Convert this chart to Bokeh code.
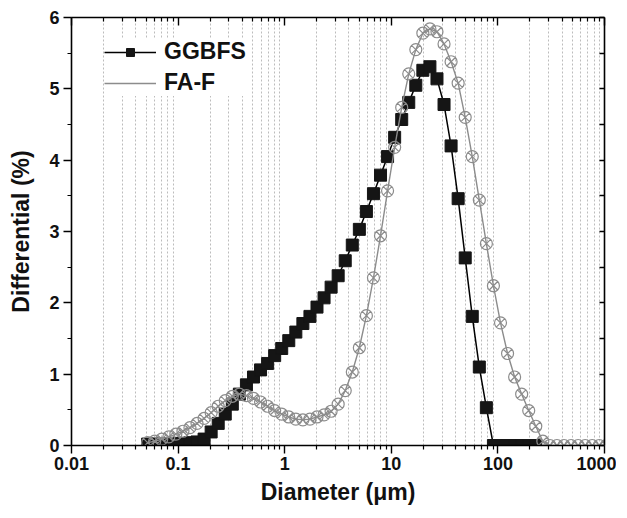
from bokeh.plotting import figure
from bokeh.models import (LogAxis, LinearAxis, FixedTicker, SingleIntervalTicker,
                          Legend, LegendItem, Range1d, CustomJSTickFormatter)
from bokeh.embed import file_html
from bokeh.resources import INLINE

# ---------------- data ----------------
diameter = [0.05178, 0.06031, 0.07024, 0.0818, 0.09527, 0.111, 0.1292, 0.1505, 0.1753, 0.2042,
            0.2378, 0.2769, 0.3225, 0.3757, 0.4375, 0.5096, 0.5935, 0.6912, 0.805, 0.9376,
            1.092, 1.272, 1.481, 1.725, 2.009, 2.34, 2.725, 3.174, 3.697, 4.306,
            5.015, 5.84, 6.802, 7.922, 9.227, 10.75, 12.52, 14.58, 16.98, 19.77,
            23.03, 26.82, 31.24, 36.38, 42.37, 49.35, 57.48, 66.94, 77.96, 90.8,
            105.8, 123.2, 143.5, 167.1, 194.6, 226.6, 263.9, 307.4, 358.0, 417.0,
            485.7, 565.6, 658.8, 767.2, 893.6, 1041.0]

ggbfs = [0.02, 0.02, 0.02, 0.02, 0.03, 0.03, 0.04, 0.05, 0.09, 0.19,
         0.31, 0.44, 0.58, 0.72, 0.85, 0.96, 1.06, 1.15, 1.26, 1.36,
         1.47, 1.59, 1.71, 1.81, 1.94, 2.07, 2.22, 2.38, 2.59, 2.81,
         3.03, 3.28, 3.53, 3.79, 4.05, 4.32, 4.57, 4.81, 5.05, 5.26,
         5.31, 5.14, 4.78, 4.20, 3.46, 2.63, 1.81, 1.10, 0.53, 0.0,
         0.0, 0.0, 0.0, 0.0, 0.0, 0.0]

fa_f = [0.04, 0.06, 0.09, 0.12, 0.16, 0.20, 0.25, 0.31, 0.38, 0.46,
        0.55, 0.63, 0.69, 0.72, 0.70, 0.66, 0.61, 0.55, 0.49, 0.44,
        0.40, 0.37, 0.36, 0.37, 0.40, 0.43, 0.48, 0.58, 0.77, 1.03,
        1.37, 1.82, 2.35, 2.94, 3.57, 4.18, 4.74, 5.21, 5.55, 5.78,
        5.84, 5.80, 5.63, 5.38, 5.08, 4.60, 4.05, 3.44, 2.83, 2.24,
        1.72, 1.29, 0.96, 0.72, 0.49, 0.27, 0.06, 0.0, 0.0, 0.0,
        0.0, 0.0, 0.0, 0.0, 0.0, 0.0]

series_names = ["GGBFS", "FA-F"]
x_tick_values = [0.01, 0.1, 1, 10, 100, 1000]
x_tick_labels = ["0.01", "0.1", "1", "10", "100", "1000"]
x_minor_ticks = [m * d for d in [0.01, 0.1, 1, 10, 100] for m in range(2, 10)]
x_title = "Diameter (\u03bcm)"
y_title = "Differential (%)"

FONT = "Liberation Sans"
GREY = "#8c8c8c"

p = figure(frame_width=533, frame_height=428,
           x_axis_type="log", x_range=Range1d(0.01, 1000), y_range=Range1d(0, 6),
           output_backend="svg", toolbar_location=None,
           min_border_left=71, min_border_right=12, min_border_top=17, min_border_bottom=60)
p.outline_line_color = None
p.background_fill_color = "white"
p.border_fill_color = "white"

# grid: dotted vertical lines at minor log positions only
xt = FixedTicker(ticks=x_tick_values, minor_ticks=x_minor_ticks)
p.xgrid.ticker = xt
p.xgrid.grid_line_color = None
p.xgrid.minor_grid_line_color = "#bcbcbc"
p.xgrid.minor_grid_line_dash = "2 2"
p.xgrid.minor_grid_line_width = 1
p.ygrid.grid_line_color = None

# bottom axis
xa = p.xaxis[0]
xa.ticker = xt
xa.major_label_overrides = {v: s for v, s in zip(x_tick_values, x_tick_labels)}
xa.axis_label = x_title

# left axis
ya = p.yaxis[0]
ya.ticker = SingleIntervalTicker(interval=1, num_minor_ticks=2)
ya.axis_label = y_title

for ax in (xa, ya):
    ax.axis_line_width = 1.6
    ax.axis_line_color = "black"
    ax.major_tick_line_width = 1.4
    ax.minor_tick_line_width = 1.2
    ax.major_tick_line_color = "black"
    ax.minor_tick_line_color = "black"
    ax.major_tick_in = 0
    ax.major_tick_out = 8
    ax.minor_tick_in = 0
    ax.minor_tick_out = 4
    ax.major_label_text_font = FONT
    ax.major_label_text_font_style = "bold"
    ax.major_label_text_font_size = "18px"
    ax.major_label_text_color = "#111111"
    ax.axis_label_text_font = FONT
    ax.axis_label_text_font_style = "bold"
    ax.axis_label_text_font_size = "23px"
    ax.axis_label_text_color = "#111111"
xa.major_label_standoff = 3
xa.axis_label_standoff = 6
ya.major_label_standoff = 4
ya.axis_label_standoff = 12

blank = CustomJSTickFormatter(code="return ''")

top = LogAxis(ticker=xt, formatter=blank, axis_line_width=1.6, axis_line_color="black",
              major_tick_in=8, major_tick_out=0, minor_tick_in=4, minor_tick_out=0,
              major_tick_line_width=1.4, minor_tick_line_width=1.2,
              major_label_standoff=0)
p.add_layout(top, "above")

right = LinearAxis(ticker=SingleIntervalTicker(interval=0.5, num_minor_ticks=0), formatter=blank,
                   axis_line_width=1.6, axis_line_color="black",
                   major_tick_in=5, major_tick_out=0, minor_tick_in=0, minor_tick_out=0,
                   major_tick_line_width=1.4, major_label_standoff=0)
p.add_layout(right, "right")

# series
gx = diameter[:len(ggbfs)]
fx = diameter[:len(fa_f)]
l1 = p.line(gx, ggbfs, line_color="black", line_width=1.5)
s1 = p.scatter(gx, ggbfs, marker="square", size=12, fill_color="#151515", line_color="#151515")
l2 = p.line(fx, fa_f, line_color=GREY, line_width=1.4)
s2 = p.scatter(fx, fa_f, marker="circle_x", size=12, fill_color=None, line_color=GREY, line_width=1.2)
dummy = p.scatter([], [], marker="circle_cross", size=13, fill_color=None, line_color=GREY, line_width=1.2)

legend = Legend(items=[LegendItem(label=series_names[0], renderers=[l1, s1]),
                       LegendItem(label=series_names[1], renderers=[l2, dummy])],
                location=(33, 349), orientation="vertical",
                label_text_font=FONT, label_text_font_style="bold", label_text_font_size="23px",
                label_text_color="#111111",
                glyph_width=52, glyph_height=20, label_standoff=8, padding=12, spacing=4, margin=0,
                border_line_color=None, background_fill_color="white", background_fill_alpha=1.0)
p.add_layout(legend)

open("out.html", "w").write(file_html(p, INLINE))
